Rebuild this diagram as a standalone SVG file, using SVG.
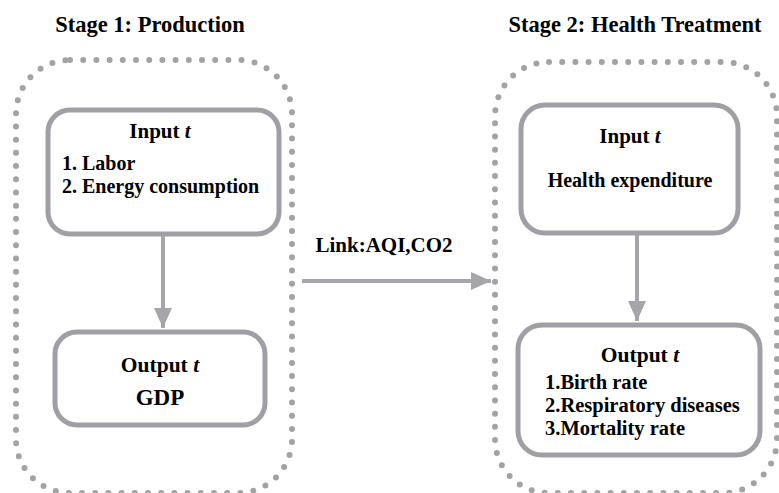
<svg xmlns="http://www.w3.org/2000/svg" width="779" height="493" viewBox="0 0 779 493">
<style>
.t{font-family:"Liberation Serif","Times New Roman",serif;font-weight:bold;fill:#000}
.box{fill:#fff;stroke:#a19fa5;stroke-width:5}
.dot{fill:none;stroke:#a3a3a6;stroke-width:6;stroke-dasharray:0 13.2;stroke-linecap:round}
.con{stroke:#a6a5aa;stroke-width:4;fill:none}
</style>
<defs>
<marker id="ah" markerUnits="userSpaceOnUse" markerWidth="20" markerHeight="20" viewBox="0 0 20 18" refX="20" refY="9" orient="auto">
<path d="M0,0 L20,9 L0,18 Z" fill="#a6a5aa"/>
</marker>
</defs>
<rect width="779" height="493" fill="#fff"/>
<g id="stage1">
<text class="t" x="150" y="32" font-size="22.5" text-anchor="middle">Stage 1: Production</text>
<rect class="dot" x="16" y="60" width="276" height="433" rx="54"/>
</g>
<g id="stage2">
<text class="t" x="635" y="32" font-size="22.5" text-anchor="middle">Stage 2: Health Treatment</text>
<rect class="dot" x="495" y="62" width="282" height="431" rx="54"/>
</g>
<g id="input1">
<rect class="box" x="48" y="110" width="231" height="124" rx="22"/>
<text class="t" x="160" y="138" font-size="21" text-anchor="middle">Input <tspan font-style="italic">t</tspan></text>
<text class="t" x="62" y="170" font-size="20">1. Labor</text>
<text class="t" x="62" y="193" font-size="20">2. Energy consumption</text>
</g>
<g id="output1">
<rect class="box" x="55" y="332" width="210" height="93" rx="22"/>
<text class="t" x="160" y="372" font-size="21.5" text-anchor="middle">Output <tspan font-style="italic">t</tspan></text>
<text class="t" x="160" y="405" font-size="23" text-anchor="middle">GDP</text>
</g>
<g id="input2">
<rect class="box" x="521" y="105" width="217" height="128" rx="24"/>
<text class="t" x="630" y="143" font-size="21" text-anchor="middle">Input <tspan font-style="italic">t</tspan></text>
<text class="t" x="630" y="187" font-size="20" text-anchor="middle">Health expenditure</text>
</g>
<g id="output2">
<rect class="box" x="518" y="325" width="242" height="130" rx="24"/>
<text class="t" x="640" y="362" font-size="21.5" text-anchor="middle">Output <tspan font-style="italic">t</tspan></text>
<text class="t" x="545" y="389" font-size="20.5">1.Birth rate</text>
<text class="t" x="545" y="412" font-size="20.5">2.Respiratory diseases</text>
<text class="t" x="545" y="435" font-size="20.5">3.Mortality rate</text>
</g>
<g id="connectors">
<line class="con" x1="163" y1="236" x2="163" y2="328" marker-end="url(#ah)"/>
<line class="con" x1="637" y1="235" x2="637" y2="321" marker-end="url(#ah)"/>
<line class="con" x1="302" y1="281" x2="491" y2="281" marker-end="url(#ah)"/>
<text class="t" x="384" y="252" font-size="21" text-anchor="middle">Link:AQI,CO2</text>
</g>
</svg>
